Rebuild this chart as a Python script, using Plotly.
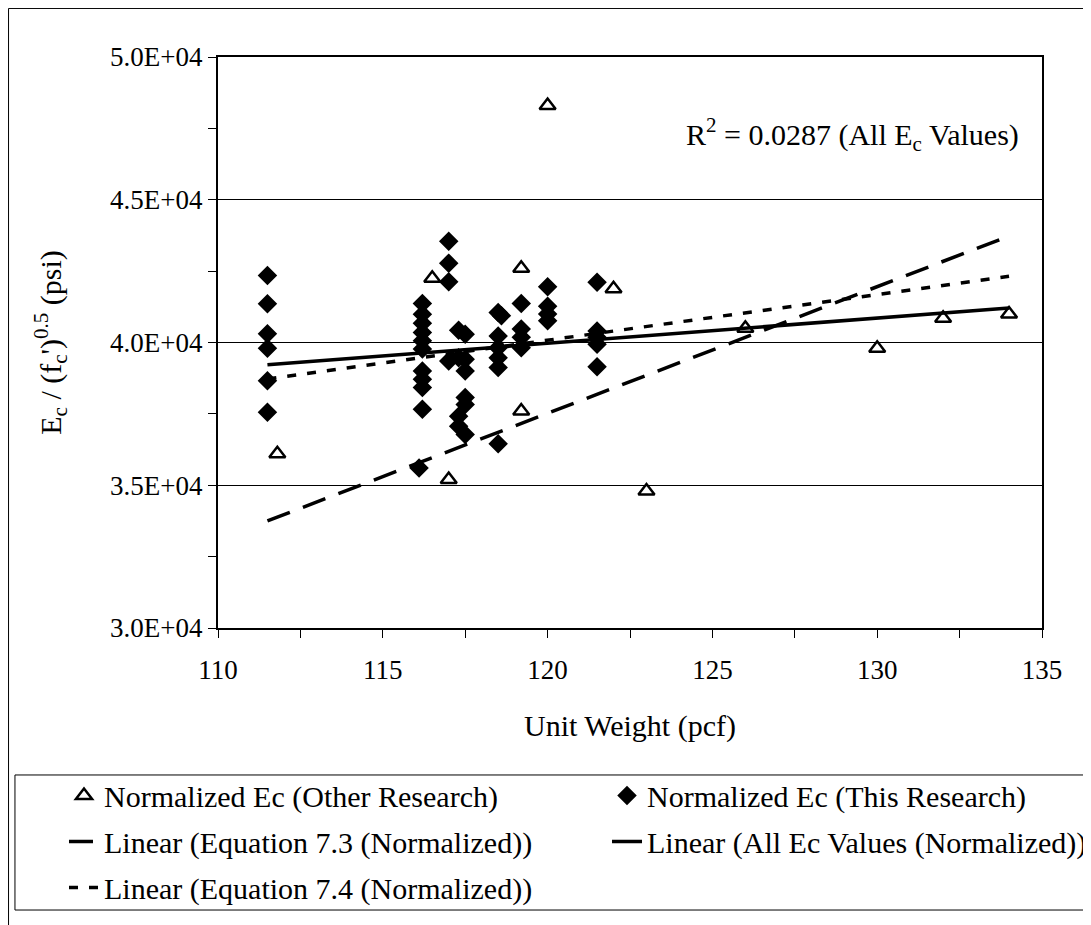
import plotly.graph_objects as go

# unit weight (pcf) and normalized Ec for the two data sets
other_x = [111.8, 116.5, 117.0, 119.2, 119.2, 120.0, 122.0, 123.0, 126.0, 130.0, 132.0, 134.0]
other_y = [36100, 42250, 35200, 42600, 37600, 48300, 41880, 34800, 40500, 39800, 40850, 41000]

this_x = [111.5, 111.5, 111.5, 111.5, 111.5, 111.5,
          116.2, 116.2, 116.2, 116.2, 116.2, 116.2, 116.2, 116.2, 116.2, 116.2, 116.1,
          117.0, 117.0, 117.0, 117.0,
          117.3, 117.3, 117.3, 117.3,
          117.5, 117.5, 117.5, 117.5, 117.5, 117.5,
          118.5, 118.6, 118.5, 118.5, 118.5, 118.5, 118.5,
          119.2, 119.2, 119.2, 119.2,
          120.0, 120.0, 120.0, 120.0,
          121.5, 121.5, 121.5, 121.5, 121.5]
this_y = [42350, 41360, 40310, 39800, 38660, 37560,
          41370, 40990, 40670, 40350, 40060, 39770, 39000, 38710, 38420, 37660, 35600,
          43550, 42780, 42130, 39350,
          40430, 39470, 37420, 37070,
          40290, 39410, 39000, 38070, 37830, 36780,
          41050, 40940, 40230, 39820, 39470, 39120, 36450,
          41370, 40470, 40180, 39820,
          41950, 41270, 41000, 40760,
          42110, 40400, 40180, 39940, 39150]

# trend line end points
trend_x = [111.5, 134.0]
eq73_y = [33750, 43730]
all_y = [39220, 41210]
eq74_y = [38720, 42320]

y_ticks = [30000, 35000, 40000, 45000, 50000]
y_labels = ["3.0E+04", "3.5E+04", "4.0E+04", "4.5E+04", "5.0E+04"]

FONT = "Liberation Serif"

fig = go.Figure()

fig.add_trace(go.Scatter(x=other_x, y=other_y, mode="markers",
                         name="Normalized Ec (Other Research)", legend="legend", legendgroup="a",
                         marker=dict(symbol="triangle-up-open", size=14, color="black",
                                     line=dict(width=2.5, color="black"))))
fig.add_trace(go.Scatter(x=this_x, y=this_y, mode="markers",
                         name="Normalized Ec (This Research)", legend="legend2", legendgroup="b",
                         marker=dict(symbol="diamond", size=15, color="black")))
fig.add_trace(go.Scatter(x=trend_x, y=eq73_y, mode="lines",
                         name="Linear (Equation 7.3 (Normalized))", legend="legend", legendgroup="c",
                         line=dict(color="black", width=3.5, dash="24px,14px")))
fig.add_trace(go.Scatter(x=trend_x, y=all_y, mode="lines",
                         name="Linear (All Ec Values (Normalized))", legend="legend2", legendgroup="d",
                         line=dict(color="black", width=3.5)))
fig.add_trace(go.Scatter(x=trend_x, y=eq74_y, mode="lines",
                         name="Linear (Equation 7.4 (Normalized))", legend="legend", legendgroup="e",
                         line=dict(color="black", width=3.5, dash="9px,11px")))

fig.add_annotation(x=134.36, y=47300, xref="x", yref="y", xanchor="right",
                   text="R<sup>2</sup> = 0.0287 (All E<sub>c</sub> Values)",
                   showarrow=False, font=dict(family=FONT, size=30, color="black"))

# chart area border
fig.add_shape(type="rect", xref="paper", yref="paper",
              x0=-0.2542, x1=1.057, y0=-0.56, y1=1.085,
              line=dict(color="black", width=1))
# legend box
fig.add_shape(type="rect", xref="paper", yref="paper",
              x0=-0.2464, x1=1.1, y0=-0.4939, y1=-0.2574,
              line=dict(color="black", width=1))

fig.update_xaxes(range=[110, 135], dtick=5, tick0=110, showgrid=False,
                 ticks="outside", ticklen=8, tickcolor="black", ticklabelstandoff=9,
                 minor=dict(dtick=2.5, ticks="outside", ticklen=8, tickcolor="black"),
                 showline=True, linecolor="black", linewidth=1.5, mirror=True,
                 tickfont=dict(family=FONT, size=27, color="black"),
                 title=dict(text="Unit Weight (pcf)", standoff=31,
                            font=dict(family=FONT, size=30, color="black")))
fig.update_yaxes(range=[30000, 50000], tickvals=y_ticks, ticktext=y_labels,
                 showgrid=True, gridcolor="black", gridwidth=1,
                 ticks="outside", ticklen=8, tickcolor="black",
                 minor=dict(dtick=2500, ticks="outside", ticklen=8, tickcolor="black", showgrid=False),
                 showline=True, linecolor="black", linewidth=2, mirror=True,
                 tickfont=dict(family=FONT, size=27, color="black"),
                 title=dict(text="E<sub>c</sub> / (f<sub>c</sub>')<sup>0.5</sup> (psi)", standoff=40,
                            font=dict(family=FONT, size=30, color="black")))

leg_common = dict(orientation="v", yanchor="top", traceorder="grouped", tracegroupgap=4,
                  bgcolor="rgba(0,0,0,0)", borderwidth=0,
                  font=dict(family=FONT, size=30, color="black"))

fig.update_layout(
    width=1083, height=917,
    margin=dict(l=210, r=49, t=49, b=297, autoexpand=False),
    paper_bgcolor="white", plot_bgcolor="white",
    font=dict(family=FONT, color="black"),
    legend=dict(x=-0.1869, y=-0.2477, xanchor="left", **leg_common),
    legend2=dict(x=0.4721, y=-0.2477, xanchor="left", **leg_common),
)

fig.write_html("out.html")
